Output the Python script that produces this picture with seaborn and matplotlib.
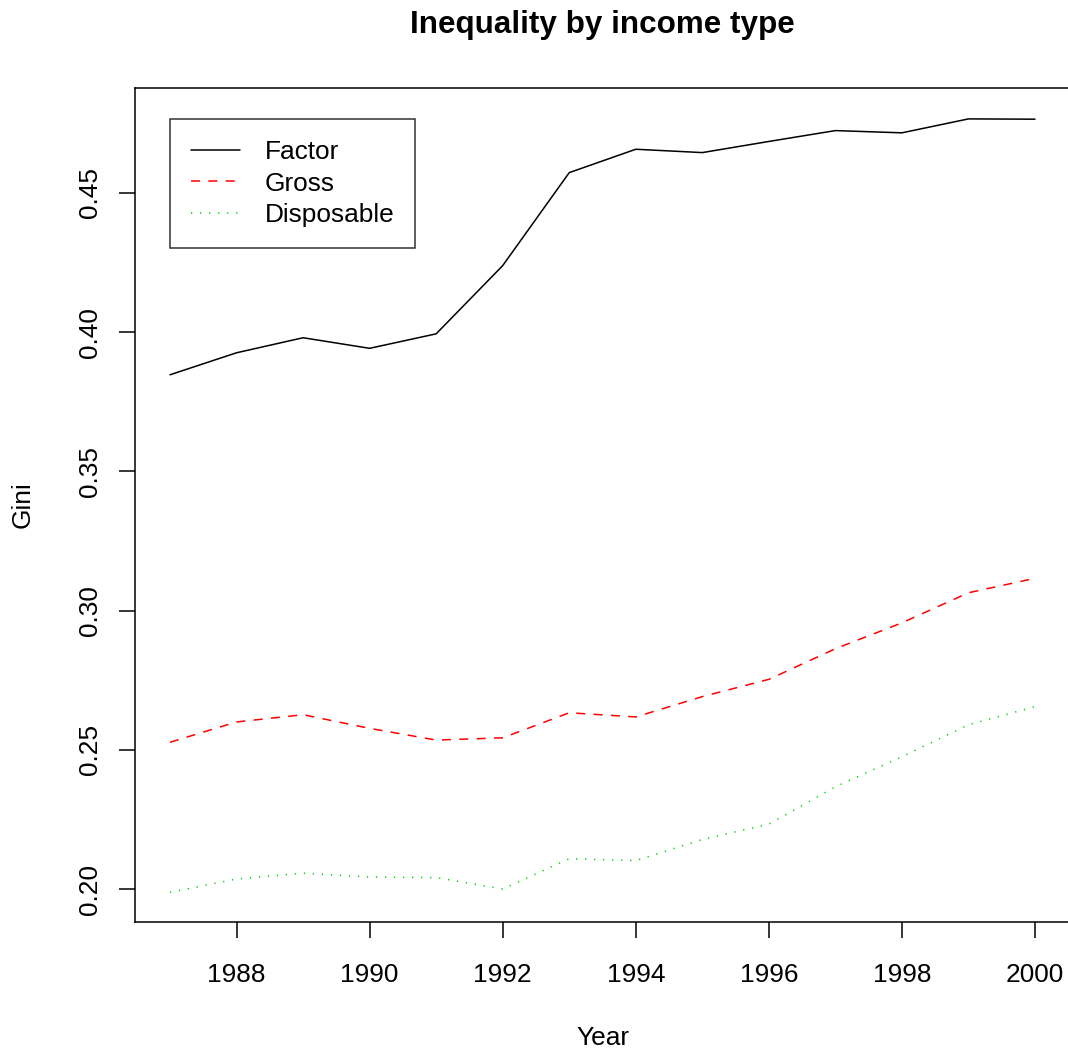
import matplotlib
matplotlib.use("Agg")
import matplotlib.pyplot as plt
import seaborn as sns
import pandas as pd

# Gini coefficients by income concept, 1987-2000
years = list(range(1987, 2001))
factor = [0.3847, 0.3926, 0.3980, 0.3942, 0.3994, 0.4239, 0.4573,
          0.4657, 0.4645, 0.4685, 0.4724, 0.4716, 0.4766, 0.4765]
gross = [0.2527, 0.2600, 0.2626, 0.2577, 0.2535, 0.2543, 0.2633,
         0.2618, 0.2691, 0.2753, 0.2863, 0.2956, 0.3064, 0.3116]
disposable = [0.1988, 0.2036, 0.2057, 0.2043, 0.2041, 0.2000, 0.2109,
              0.2102, 0.2178, 0.2233, 0.2367, 0.2475, 0.2590, 0.2655]
series_names = ["Factor", "Gross", "Disposable"]
series_colors = ["#000000", "#FF0000", "#00CD00"]
x_ticks = [1988, 1990, 1992, 1994, 1996, 1998, 2000]
y_ticks = [0.20, 0.25, 0.30, 0.35, 0.40, 0.45]

df = pd.DataFrame({
    "Year": years * 3,
    "Gini": factor + gross + disposable,
    "Type": [n for n in series_names for _ in years],
})

sns.set_theme(style="white")
plt.rcParams["font.family"] = ["Liberation Sans", "DejaVu Sans"]
plt.rcParams["lines.scale_dashes"] = False
plt.rcParams["text.color"] = "black"

FS = 18.9
fig = plt.figure(figsize=(10.68, 10.5), dpi=100)
ax = fig.add_axes([135.4 / 1068, 128 / 1050, 934.2 / 1068, 834 / 1050])

sns.lineplot(
    data=df, x="Year", y="Gini", hue="Type", style="Type",
    hue_order=series_names, style_order=series_names,
    palette=dict(zip(series_names, series_colors)),
    dashes={"Factor": "", "Gross": (6.5, 6.0), "Disposable": (0.9, 5.6)},
    linewidth=1.1, ax=ax, legend=True,
)

handles, labels = ax.get_legend_handles_labels()
leg = ax.legend(
    handles, labels, loc="upper left",
    bbox_to_anchor=(170 / 1068, 1 - 119 / 1050), bbox_transform=fig.transFigure,
    borderaxespad=0, frameon=True, fancybox=False, fontsize=FS,
    handlelength=1.85, handletextpad=0.95, labelspacing=0.29, borderpad=0.8,
    title=None,
)
leg.get_frame().set_edgecolor("black")
leg.get_frame().set_linewidth(1.1)
for t in leg.get_texts():
    t.set_color("black")

ax.set_xlim(1986.48, 2000.52)
ax.set_ylim(0.18815, 0.4877)
ax.set_xticks(x_ticks)
ax.set_xticklabels([str(v) for v in x_ticks])
ax.set_yticks(y_ticks)
ax.set_yticklabels([f"{v:.2f}" for v in y_ticks])

for s in ax.spines.values():
    s.set_visible(True)
    s.set_color("black")
    s.set_linewidth(1.1)

ax.tick_params(axis="both", direction="out", length=11.5, width=1.1,
               color="black", labelsize=FS, labelcolor="black",
               bottom=True, left=True, top=False, right=False)
ax.tick_params(axis="x", pad=18.3)
ax.tick_params(axis="y", pad=12.5, labelrotation=90)
for lab in ax.get_yticklabels():
    lab.set_va("center")

ax.set_xlabel("Year", fontsize=FS, color="black", labelpad=27.5)
ax.set_ylabel("Gini", fontsize=FS, color="black", labelpad=31)
ax.set_title("Inequality by income type", fontsize=22.6, fontweight="bold",
             color="black", pad=39.3)
ax.grid(False)

fig.savefig("out.png", dpi=100, facecolor="white")
